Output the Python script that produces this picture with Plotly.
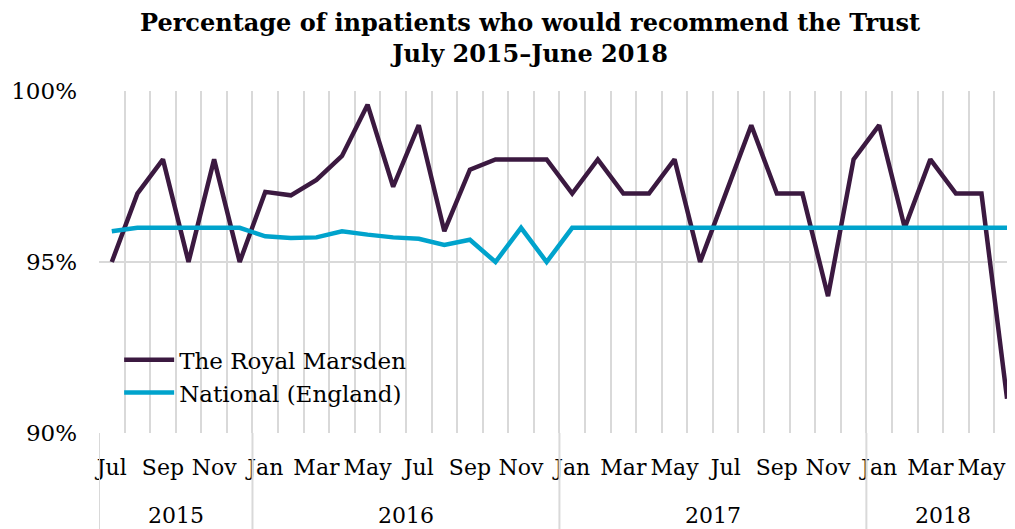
import plotly.graph_objects as go

months = ["Jul", "Aug", "Sep", "Oct", "Nov", "Dec",
          "Jan", "Feb", "Mar", "Apr", "May", "Jun", "Jul", "Aug", "Sep", "Oct", "Nov", "Dec",
          "Jan", "Feb", "Mar", "Apr", "May", "Jun", "Jul", "Aug", "Sep", "Oct", "Nov", "Dec",
          "Jan", "Feb", "Mar", "Apr", "May", "Jun"]
years = ["2015", "2016", "2017", "2018"]
year_counts = [6, 12, 12, 6]

royal_marsden = [95, 97, 98, 95, 98, 95,
                 97.05, 96.95, 97.4, 98.1, 99.6, 97.2, 99, 95.9, 97.7, 98, 98, 98,
                 97, 98, 97, 97, 98, 95, 97, 99, 97, 97, 94, 98,
                 99, 96, 98, 97, 97, 91]
national = [95.9, 96, 96, 96, 96, 96,
            95.75, 95.7, 95.72, 95.9, 95.8, 95.72, 95.68, 95.5, 95.65, 95, 96, 95,
            96, 96, 96, 96, 96, 96, 96, 96, 96, 96, 96, 96,
            96, 96, 96, 96, 96, 96]

FONT = "Georgia, 'DejaVu Serif', serif"
GRID = "#d9d9d9"

x = list(range(len(months)))
tickvals = x[::2]
ticktext = [months[i] for i in tickvals]

fig = go.Figure()
fig.add_trace(go.Scatter(x=x, y=royal_marsden, mode="lines", name="The Royal Marsden",
                         line=dict(color="#3b1940", width=4.5)))
fig.add_trace(go.Scatter(x=x, y=national, mode="lines", name="National (England)",
                         line=dict(color="#00a3cc", width=4.5)))

# year group dividers and labels
start = 0
for yr, cnt in zip(years, year_counts):
    fig.add_shape(type="line", xref="x", yref="paper", x0=start - 0.5, x1=start - 0.5,
                  y0=0, y1=-0.30, line=dict(color=GRID, width=2))
    fig.add_annotation(x=start + (cnt - 1) / 2, y=-0.24, xref="x", yref="paper",
                       text=yr, showarrow=False, yanchor="middle",
                       font=dict(family=FONT, size=22, color="#000"))
    start += cnt

# title (page is offset 8px by the default body margin; layout compensates)
fig.add_annotation(x=(530 - 99) / (1015 - 99), y=1.247, xref="paper", yref="paper",
                   text="<b>Percentage of inpatients who would recommend the Trust<br>July 2015\u2013June 2018</b>",
                   showarrow=False, xanchor="center", yanchor="top", borderpad=0,
                   font=dict(family=FONT, size=24, color="#000"))

fig.update_layout(
    width=1007, height=521,
    paper_bgcolor="white", plot_bgcolor="white",
    margin=dict(l=91, r=0, t=83, b=96, autoexpand=False),
    font=dict(family=FONT, size=22, color="#000"),
    showlegend=True,
    legend=dict(x=0.022, y=0.277, xanchor="left", yanchor="top", bgcolor="rgba(255,255,255,0)",
                font=dict(family=FONT, size=23, color="#000"), tracegroupgap=0, itemwidth=50),
    xaxis=dict(range=[-0.5, 35.31], tickmode="array", tickvals=tickvals, ticktext=ticktext,
               showgrid=False, zeroline=False, showline=False, ticks="", automargin=False,
               tickfont=dict(family=FONT, size=22, color="#000"), ticklabelstandoff=19,
               minor=dict(tick0=-0.5, dtick=1, showgrid=True, gridcolor=GRID, gridwidth=2)),
    yaxis=dict(range=[90, 100], dtick=5, ticksuffix="%", showgrid=True, gridcolor=GRID,
               gridwidth=2, zeroline=False, showline=False, ticks="", automargin=False,
               tickfont=dict(family=FONT, size=23, color="#000"), ticklabelstandoff=21),
)

fig.write_html("out.html")
